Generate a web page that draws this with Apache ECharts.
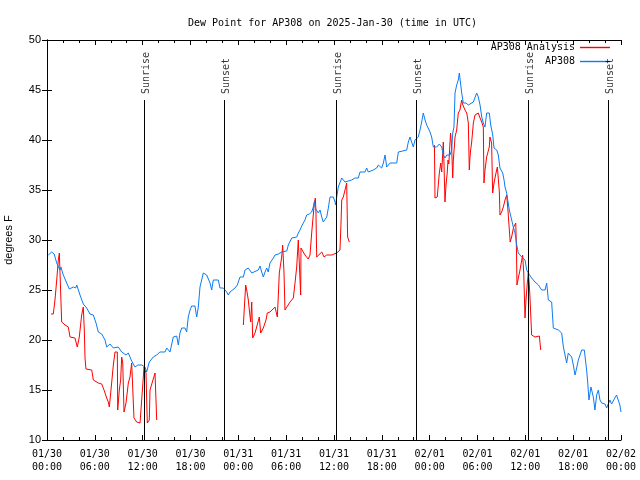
<!DOCTYPE html>
<html><head><meta charset="utf-8">
<script src="https://cdn.jsdelivr.net/npm/echarts@6/dist/echarts.min.js"></script>
<style>html,body{margin:0;padding:0;background:#fff}#c{width:640px;height:480px}</style>
</head><body><div id="c"></div>
<script>
// hours since 2025-01-30 00:00 UTC, dew point (F)
const ap308 = [
[0.16,28.5],[0.59,28.8],[0.9,28.6],[1.22,27.7],[1.45,27.6],[1.63,27.0],[1.75,27.3],[2.0,26.6],[2.47,25.7],[2.8,25.1],
[3.3,25.3],[3.6,25.2],[3.73,25.5],[3.9,25.1],[4.14,24.5],[4.55,23.6],[4.98,23.2],[5.39,22.6],[5.81,22.5],[6.15,21.7],
[6.43,20.8],[6.86,20.6],[7.28,20.0],[7.49,19.3],[7.9,19.6],[8.32,19.2],[8.94,19.3],[9.37,18.8],[9.91,18.5],[10.2,18.7],
[10.62,17.9],[11.04,17.3],[11.4,17.5],[11.88,17.5],[12.29,17.3],[12.5,16.8],[12.83,17.8],[13.33,18.3],[13.76,18.5],[14.17,18.8],
[14.8,18.8],[15.02,19.2],[15.43,18.8],[15.84,20.3],[16.27,20.4],[16.47,19.5],[16.68,20.7],[16.9,21.2],[17.31,21.2],[17.52,20.8],
[17.72,22.3],[17.94,23.0],[18.15,23.4],[18.56,23.4],[18.78,22.3],[18.98,23.3],[19.19,25.3],[19.4,25.5],[19.61,26.7],[19.82,26.8],
[20.03,26.5],[20.25,26.5],[20.45,25.7],[20.66,25.0],[20.86,26.0],[21.49,26.0],[21.7,25.2],[22.12,25.2],[22.33,25.3],[22.54,24.8],
[22.74,24.5],[22.95,24.8],[23.17,25.0],[23.58,25.2],[23.87,25.5],[24.21,26.3],[24.42,26.5],[24.63,26.3],[24.84,27.0],[25.25,27.2],
[25.5,27.2],[25.68,26.7],[25.9,26.8],[26.5,27.0],[26.72,27.4],[26.93,26.8],[27.13,26.3],[27.35,26.8],[27.56,27.2],[27.75,26.8],
[27.97,27.7],[28.39,28.2],[28.6,28.5],[29.01,28.6],[29.25,28.6],[29.44,28.8],[30.07,28.9],[30.27,29.5],[30.48,29.7],[30.7,30.2],
[31.32,30.3],[31.52,30.7],[31.74,31.0],[31.95,31.4],[32.36,32.0],[32.57,32.5],[32.9,32.6],[33.2,32.8],[33.4,33.3],[33.53,33.8],
[33.66,33.2],[33.83,33.1],[34.03,32.7],[34.25,33.0],[34.46,32.3],[34.66,31.8],[34.87,32.0],[35.09,32.3],[35.29,33.2],[35.5,34.3],
[35.71,34.5],[35.92,34.3],[36.13,33.8],[36.2,33.5],[36.34,34.3],[36.54,35.3],[36.75,35.5],[36.97,36.2],[37.17,36.0],[37.38,35.8],
[38.22,36.0],[38.63,36.2],[39.05,36.2],[39.26,36.8],[39.89,36.8],[40.1,37.2],[40.3,36.8],[40.93,37.0],[41.14,37.1],[41.36,37.2],
[41.56,37.5],[41.78,37.4],[41.98,37.2],[42.19,37.7],[42.4,38.5],[42.53,37.8],[42.61,37.3],[42.81,37.5],[43.03,37.7],[43.87,37.7],
[44.07,38.8],[44.28,39.0],[45.12,39.0],[45.32,39.8],[45.53,40.3],[45.95,39.3],[46.16,40.0],[46.57,40.3],[46.79,41.0],[47.0,41.8],
[47.2,42.7],[47.42,42.0],[47.63,41.5],[47.85,41.5],[48.04,40.8],[48.25,40.3],[48.46,39.3],[48.88,39.3],[49.21,39.6],[49.51,39.3],
[49.71,38.5],[49.92,38.2],[50.14,38.5],[50.55,38.5],[50.76,39.0],[50.89,40.7],[51.05,41.3],[51.18,44.7],[51.39,45.5],[51.59,46.0],
[51.72,46.7],[51.9,45.5],[52.02,44.7],[52.22,43.7],[52.56,43.7],[52.85,43.5],[53.06,43.7],[53.48,43.8],[53.69,44.0],[53.9,44.7],
[54.03,44.8],[54.1,44.3],[54.32,43.5],[54.53,42.3],[54.73,41.7],[54.94,41.3],[55.15,42.7],[55.48,42.7],[55.66,41.5],[55.91,40.5],
[56.07,39.2],[56.41,39.0],[56.61,38.5],[56.82,37.2],[57.16,36.7],[57.33,36.0],[57.45,35.3],[57.66,34.7],[57.86,34.5],[57.99,33.0],
[58.29,32.0],[58.49,31.3],[58.71,30.7],[58.92,29.5],[59.12,28.7],[59.55,28.3],[59.75,28.2],[59.96,28.0],[60.17,27.0],[60.37,26.7],
[60.79,26.2],[61.21,25.8],[61.64,25.5],[62.05,25.0],[62.47,25.0],[62.68,25.7],[62.89,24.0],[63.09,23.8],[63.3,23.8],[63.51,21.2],
[63.72,21.0],[64.14,21.0],[64.35,21.2],[64.56,20.7],[64.77,19.3],[64.98,18.5],[65.18,17.7],[65.39,18.7],[65.6,18.8],[65.81,18.3],
[66.02,17.5],[66.23,16.5],[66.44,17.2],[66.65,18.0],[66.86,18.5],[67.07,19.0],[67.28,18.8],[67.4,19.0],[67.69,17.0],[67.82,15.8],
[67.98,14.0],[68.23,15.3],[68.41,15.3],[68.53,14.3],[68.73,13.0],[68.95,14.5],[69.16,15.0],[69.36,14.0],[69.57,13.7],[69.99,13.6],
[70.2,13.2],[70.41,13.3],[70.61,14.0],[70.82,13.6],[71.03,13.8],[71.23,14.2],[71.44,14.5],[71.65,14.3],[71.86,13.5],[72.0,12.8]
];
const analysisDay1 = [
[0.5,22.6],[0.79,22.6],[1.0,24.0],[1.22,26.0],[1.42,28.0],[1.55,28.7],[1.84,21.8],[2.26,21.5],[2.67,21.3],[2.89,20.3],
[3.51,20.2],[3.8,19.3],[4.05,20.3],[4.35,22.5],[4.55,23.3],[4.68,21.0],[4.77,18.2],[4.89,17.1],[5.61,17.0],[5.81,16.0],
[6.43,15.7],[6.86,15.6],[7.15,15.0],[7.49,14.2],[7.69,13.8],[7.82,13.3],[8.12,15.8],[8.32,17.5],[8.53,18.8],[8.82,18.8],
[8.87,13.0],[9.07,15.0],[9.24,16.0],[9.37,18.3],[9.5,17.7],[9.66,12.8],[9.91,13.7],[10.2,15.7],[10.41,16.3],[10.62,17.7],
[10.76,17.7],[10.91,12.2],[11.25,11.8],[11.67,11.7],[11.88,11.5],[12.17,17.3],[12.42,16.7],[12.58,11.7],[12.83,12.0],[12.92,15.0],
[13.55,16.7],[13.76,12.0]
];
const analysisDay2 = [
[24.63,21.5],[24.84,21.5],[24.92,25.5],[25.05,25.0],[25.25,24.0],[25.38,23.0],[25.55,21.8],[25.68,23.8],[25.8,20.2],[25.88,20.3],
[26.09,20.7],[26.3,21.3],[26.63,22.3],[26.8,20.7],[27.13,21.2],[27.47,22.0],[27.63,22.7],[27.97,22.8],[28.6,23.3],[28.73,23.4],
[28.89,22.3],[29.01,24.3],[29.14,26.7],[29.44,28.3],[29.56,29.5],[29.73,26.7],[29.85,23.0],[30.07,23.2],[30.48,23.8],[30.9,24.2],
[31.11,25.7],[31.32,27.3],[31.52,30.0],[31.74,29.8],[31.82,24.5],[31.86,29.2],[31.95,29.2],[32.36,28.5],[32.77,28.1],[32.99,28.5],
[33.2,30.7],[33.4,32.5],[33.53,33.7],[33.66,34.2],[33.74,32.7],[33.83,28.3],[34.03,28.5],[34.46,28.8],[34.66,29.0],[34.75,28.3],
[35.09,28.5],[35.71,28.5],[35.92,28.3],[36.34,28.7],[36.75,29.0],[36.88,31.7],[36.97,34.0],[37.17,34.3],[37.38,35.0],[37.59,35.7],
[37.67,35.8],[37.71,30.3],[37.92,29.8]
];
const analysisDay3 = [
[48.6,39.5],[48.67,34.2],[48.95,34.3],[49.21,36.7],[49.39,37.7],[49.51,36.8],[49.71,39.8],[49.8,37.5],[49.92,33.8],[50.05,35.5],
[50.2,36.7],[50.3,38.0],[50.4,37.6],[50.62,40.7],[50.76,39.3],[50.89,36.2],[50.97,38.0],[51.18,40.3],[51.39,41.0],[51.59,42.7],
[51.8,43.0],[51.9,43.5],[52.02,44.0],[52.12,43.6],[52.22,43.7],[52.43,43.0],[52.65,42.7],[52.85,41.7],[52.97,37.0],[53.06,38.3],
[53.14,39.0],[53.27,39.8],[53.48,41.7],[53.69,42.5],[53.9,42.7],[54.1,42.7],[54.32,42.2],[54.53,41.8],[54.73,41.3],[54.81,35.7],
[54.94,37.0],[55.15,38.3],[55.48,39.3],[55.56,40.3],[55.77,39.7],[55.9,34.7],[56.07,35.7],[56.32,36.7],[56.49,37.3],[56.74,34.8],
[56.82,32.5],[57.03,32.8],[57.24,33.3],[57.45,34.0],[57.66,34.5],[57.8,33.2],[58.1,29.8],[58.28,30.3],[58.53,31.3],[58.7,31.5],
[58.8,31.7],[58.9,28.5],[58.95,25.5],[59.12,26.2],[59.33,27.0],[59.55,28.0],[59.66,28.5],[59.8,26.7],[59.96,22.2],[60.08,24.0],
[60.25,25.7],[60.37,26.7],[60.5,25.5],[60.58,24.3],[60.79,20.5],[61.21,20.3],[61.76,20.4],[61.93,19.0]
];
const eventHours = [12.2, 22.24, 36.29, 46.35, 60.37, 70.41];
const eventNames = ['Sunrise','Sunset','Sunrise','Sunset','Sunrise','Sunset'];
const xTickLabels = ['01/30\n00:00','01/30\n06:00','01/30\n12:00','01/30\n18:00','01/31\n00:00','01/31\n06:00','01/31\n12:00','01/31\n18:00','02/01\n00:00','02/01\n06:00','02/01\n12:00','02/01\n18:00','02/02\n00:00'];
const lineTop = 44;

const analysis = analysisDay1.concat([[18,'-']], analysisDay2, [[42,'-']], analysisDay3);
const mono = 'DejaVu Sans Mono';
const sans = 'Liberation Sans';
const redColor = '#ff0000';
const blueColor = '#0b7cf3';

const chart = echarts.init(document.getElementById('c'), null, {renderer:'canvas'});
chart.setOption({
  animation: false,
  backgroundColor: '#ffffff',
  title: {text: 'Dew Point for AP308 on 2025-Jan-30 (time in UTC)', left: 183, top: 13,
    textStyle: {fontFamily: mono, fontSize: 10, fontWeight: 'normal', color: '#000'}},
  legend: {
    data: [
      {name: 'AP308 Analysis', icon: 'rect', itemStyle: {color: redColor, borderWidth: 0}, lineStyle: {color: redColor, width: 0}},
      {name: 'AP308', icon: 'rect', itemStyle: {color: blueColor, borderWidth: 0}, lineStyle: {color: blueColor, width: 0}}
    ],
    orient: 'vertical', align: 'right', right: 30, top: 41, padding: 0,
    itemWidth: 30, itemHeight: 1.4, itemGap: 1,
    textStyle: {fontFamily: mono, fontSize: 10, color: '#000', lineHeight: 13}},
  grid: {left: 47, right: 19, top: 40, bottom: 40, containLabel: false, outerBoundsMode: 'none'},
  xAxis: [{
    type: 'value', min: 0, max: 72, interval: 6,
    axisLine: {show: true, lineStyle: {color: '#000', width: 1}},
    axisTick: {show: true, inside: true, length: 5, lineStyle: {color: '#000'}},
    minorTick: {show: true, splitNumber: 3, length: 3, lineStyle: {color: '#000'}},
    splitLine: {show: false},
    axisLabel: {fontFamily: mono, fontSize: 10, color: '#000', margin: 8, lineHeight: 13,
      formatter: v => xTickLabels[Math.round(v / 6)]}
  }, {
    type: 'value', position: 'top', min: 0, max: 72, interval: 6,
    axisLine: {show: true, lineStyle: {color: '#000', width: 1}},
    axisTick: {show: true, inside: true, length: 5, lineStyle: {color: '#000'}},
    minorTick: {show: true, splitNumber: 3, length: 3, lineStyle: {color: '#000'}},
    splitLine: {show: false}, axisLabel: {show: false}
  }],
  yAxis: [{
    type: 'value', min: 10, max: 50, interval: 5,
    name: 'degrees F', nameLocation: 'middle', nameGap: 33, nameRotate: 90,
    nameTextStyle: {fontFamily: sans, fontSize: 11, color: '#000'},
    axisLine: {show: true, lineStyle: {color: '#000', width: 1}},
    axisTick: {show: true, inside: true, length: 5, lineStyle: {color: '#000'}},
    splitLine: {show: false},
    axisLabel: {fontFamily: sans, fontSize: 11, color: '#000', margin: 6}
  }, {
    type: 'value', position: 'right', min: 10, max: 50, interval: 5,
    axisLine: {show: true, lineStyle: {color: '#000', width: 1}},
    axisTick: {show: true, inside: true, length: 5, lineStyle: {color: '#000'}},
    splitLine: {show: false}, axisLabel: {show: false}
  }],
  series: [
    {name: 'AP308 Analysis', type: 'line', data: analysis, showSymbol: false, symbol: 'none',
      connectNulls: false, lineStyle: {color: redColor, width: 1}, itemStyle: {color: redColor}, z: 3},
    {name: 'AP308', type: 'line', data: ap308, showSymbol: false, symbol: 'none',
      lineStyle: {color: blueColor, width: 1}, itemStyle: {color: blueColor}, z: 4},
    {name: 'events', type: 'scatter', symbolSize: 0, silent: true, z: 5,
      data: eventHours.map((h, i) => ({value: [h, lineTop], name: eventNames[i]})),
      label: {show: true, formatter: p => p.name, position: 'top', distance: 7, rotate: 90,
        align: 'left', verticalAlign: 'middle', fontFamily: mono, fontSize: 10, color: '#000', offset: [-1, 2]},
      markLine: {silent: true, symbol: 'none', label: {show: false},
        lineStyle: {color: '#000', width: 1, type: 'solid'},
        data: eventHours.map(h => [{coord: [h, 10]}, {coord: [h, lineTop]}])}
    }
  ]
});
</script></body></html>
